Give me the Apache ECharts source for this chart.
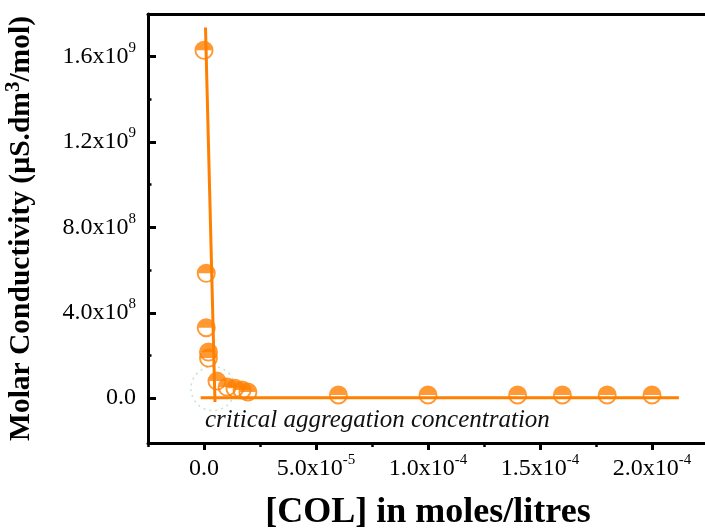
<!DOCTYPE html>
<html><head><meta charset="utf-8">
<script src="https://cdn.jsdelivr.net/npm/echarts@6/dist/echarts.min.js"></script>
<style>html,body{margin:0;padding:0;background:#fff}#c{width:705px;height:531px}</style>
</head><body><div id="c"></div>
<script>
// ---- data ----
const concX  = [0, 0.000001, 0.000001, 0.000002, 0.000002, 0.0000058, 0.0000103, 0.0000138, 0.000017, 0.0000196, 0.00006, 0.0001, 0.00014, 0.00016, 0.00018, 0.0002];
const molarY = [1.63e9, 5.85e8, 3.3e8, 2.16e8, 1.88e8, 8.0e7, 5.2e7, 4.6e7, 3.8e7, 2.9e7, 1.5e7, 1.5e7, 1.5e7, 1.5e7, 1.5e7, 1.5e7];
const steepFitX = [6.7e-7, 4.9e-6];
const steepFitY = [1.737e9, -1.8e7];
const flatFitX = [-1.5e-6, 2.12e-4];
const flatFitY = [2e6, 2e6];
const cacX = [4e-6];
const cacY = [4.5e7];
const xTicks = [0, 5e-5, 1e-4, 1.5e-4, 2e-4];
const xMinorTicks = [-2.5e-5, 2.5e-5, 7.5e-5, 1.25e-4, 1.75e-4];
const yTicks = [0, 4e8, 8e8, 1.2e9, 1.6e9];
const yMinorTicks = [2e8, 6e8, 1e9, 1.4e9];
const xTitle = '[COL] in moles/litres';
const yTitleA = 'Molar Conductivity (\u00b5S.dm';
const yTitleSup = '3';
const yTitleB = '/mol)';
const note = 'critical aggregation concentration';

const FONT = '"Liberation Serif", "DejaVu Serif", serif';
const ORANGE = '#ff7f00';
const halfSymbol = 'path://M-10,0A10,10,0,0,1,10,0A10,10,0,0,1,-10,0ZM-8,0A8,8,0,0,0,8,0Z';

function sci(v) {
  if (v === 0) return '{m|0.0}';
  const e = Math.floor(Math.log10(Math.abs(v)) + 1e-9);
  const m = v / Math.pow(10, e);
  return '{m|' + m.toFixed(1) + 'x10}{s|' + e + '}';
}
const richLab = {
  m: { fontSize: 24, fontFamily: FONT, color: '#000', lineHeight: 32 },
  s: { fontSize: 15, fontFamily: FONT, color: '#000', lineHeight: 15, verticalAlign: 'top' }
};

const pair = (xs, ys) => xs.map((x, i) => [x, ys[i]]);
const XMIN = -2.5e-5, XMAX = 2.25e-4, YMIN = -2.1e8, YMAX = 1.8e9;

const chart = echarts.init(document.getElementById('c'), null, { renderer: 'canvas' });
chart.setOption({
  animation: false,
  backgroundColor: '#fff',
  grid: { left: 148, top: 14, width: 560, height: 429, show: false, containLabel: false, outerBoundsMode: 'none' },
  xAxis: [{
    type: 'value', min: XMIN, max: XMAX, position: 'bottom',
    axisLine: { show: true, onZero: false, lineStyle: { color: '#000', width: 3 } }, splitLine: { show: false },
    axisTick: { show: true, inside: false, length: 7, lineStyle: { color: '#000', width: 3 }, customValues: xTicks },
    axisLabel: { customValues: xTicks, formatter: sci, rich: richLab, margin: 10 },
    name: xTitle, nameLocation: 'middle', nameGap: 52,
    nameTextStyle: { fontFamily: FONT, fontWeight: 'bold', fontSize: 36, color: '#000' }
  }, {
    type: 'value', min: XMIN, max: XMAX, position: 'bottom',
    axisLine: { show: false, onZero: false }, splitLine: { show: false }, axisLabel: { show: false },
    axisTick: { show: true, inside: false, length: 4, lineStyle: { color: '#000', width: 2.5 }, customValues: xMinorTicks }
  }, {
    type: 'value', min: XMIN, max: XMAX, position: 'top',
    axisLine: { show: true, onZero: false, lineStyle: { color: '#000', width: 3 } }, splitLine: { show: false },
    axisLabel: { show: false }, axisTick: { show: false }
  }],
  yAxis: [{
    type: 'value', min: YMIN, max: YMAX, position: 'left',
    axisLine: { show: true, onZero: false, lineStyle: { color: '#000', width: 3 } }, splitLine: { show: false },
    axisTick: { show: true, inside: true, length: 8, lineStyle: { color: '#000', width: 3 }, customValues: yTicks },
    axisLabel: { customValues: yTicks, formatter: sci, rich: richLab, margin: 12 },
    name: '{b|' + yTitleA + '}{s|' + yTitleSup + '}{b|' + yTitleB + '}',
    nameLocation: 'middle', nameGap: 109, nameRotate: 90,
    nameTextStyle: { rich: {
      b: { fontFamily: FONT, fontWeight: 'bold', fontSize: 29.5, color: '#000', lineHeight: 36 },
      s: { fontFamily: FONT, fontWeight: 'bold', fontSize: 21, color: '#000', lineHeight: 21, verticalAlign: 'top' }
    } }
  }, {
    type: 'value', min: YMIN, max: YMAX, position: 'left',
    axisLine: { show: false, onZero: false }, splitLine: { show: false }, axisLabel: { show: false },
    axisTick: { show: true, inside: true, length: 3.5, lineStyle: { color: '#000', width: 2.5 }, customValues: yMinorTicks }
  }],
  series: [
    {
      type: 'scatter', name: 'cac', data: pair(cacX, cacY), symbol: 'circle', symbolSize: 44, z: 1, silent: true,
      itemStyle: { color: 'rgba(0,0,0,0)', borderColor: '#b5debb', borderWidth: 1.5, borderType: [2, 4] }
    },
    {
      type: 'scatter', name: 'data', data: pair(concX, molarY), symbol: halfSymbol, symbolSize: 19, z: 2,
      itemStyle: { color: ORANGE }
    },
    {
      type: 'line', name: 'fit1', data: pair(steepFitX, steepFitY), showSymbol: false, symbol: 'none', z: 3,
      lineStyle: { color: ORANGE, width: 3 }
    },
    {
      type: 'line', name: 'fit2', data: pair(flatFitX, flatFitY), showSymbol: false, symbol: 'none', z: 3,
      lineStyle: { color: ORANGE, width: 3 }
    }
  ],
  graphic: [{
    type: 'text', left: 205, top: 408, z: 10,
    style: { text: note, font: 'italic 25px "Liberation Serif", serif', fill: '#111' }
  }]
});
</script></body></html>
